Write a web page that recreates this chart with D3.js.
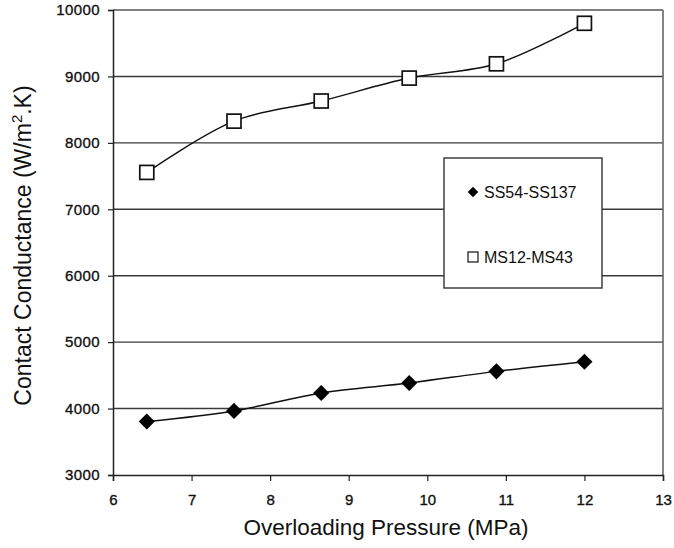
<!DOCTYPE html>
<html>
<head>
<meta charset="utf-8">
<script src="https://cdn.jsdelivr.net/npm/d3@7"></script>
<style>
  html, body { margin: 0; padding: 0; background: #fff; }
  svg { display: block; font-family: Arial, "Liberation Sans", Helvetica, sans-serif; }
</style>
</head>
<body>
<svg id="chart" width="674" height="548"></svg>
<script>
const pressure = [6.43, 7.54, 8.65, 9.77, 10.88, 12.0];
const ssValues = [3805, 3965, 4235, 4385, 4560, 4705];
const msValues = [7555, 8327, 8630, 8975, 9190, 9800];
const seriesNames = ["SS54-SS137", "MS12-MS43"];
const xTicks = [6, 7, 8, 9, 10, 11, 12, 13];
const yTicks = [3000, 4000, 5000, 6000, 7000, 8000, 9000, 10000];

const W = 674, H = 548;
const margin = { left: 113, top: 10, right: 11, bottom: 73 };
const svg = d3.select("#chart");
const x = d3.scaleLinear().domain([6, 13]).range([margin.left, W - margin.right]);
const y = d3.scaleLinear().domain([3000, 10000]).range([H - margin.bottom, margin.top]);

// gridlines
svg.append("g").selectAll("line").data(yTicks.filter(d => d > 3000 && d < 10000)).join("line")
  .attr("x1", x(6)).attr("x2", x(13))
  .attr("y1", d => y(d)).attr("y2", d => y(d))
  .attr("stroke", "#3a3a3a").attr("stroke-width", 1.4);

// plot border (top & right)
svg.append("line").attr("x1", x(6)).attr("x2", x(13)).attr("y1", y(10000)).attr("y2", y(10000))
  .attr("stroke", "#555").attr("stroke-width", 1.4);
svg.append("line").attr("x1", x(13)).attr("x2", x(13)).attr("y1", y(10000)).attr("y2", y(3000))
  .attr("stroke", "#666").attr("stroke-width", 1.6);

// axes
const yAxis = svg.append("g").attr("transform", `translate(${x(6)},0)`)
  .call(d3.axisLeft(y).tickValues(yTicks).tickFormat(d3.format("d")).tickSize(5).tickPadding(8));
const xAxis = svg.append("g").attr("transform", `translate(0,${y(3000)})`)
  .call(d3.axisBottom(x).tickValues(xTicks).tickFormat(d3.format("d")).tickSize(6).tickPadding(13));
[yAxis, xAxis].forEach(g => {
  g.select(".domain").attr("stroke", "#222").attr("stroke-width", 1.5);
  g.selectAll(".tick line").attr("stroke", "#222").attr("stroke-width", 1.2);
  g.selectAll(".tick text").attr("font-size", 15).attr("fill", "#111")
    .attr("stroke", "#111").attr("stroke-width", 0.35)
    .attr("font-family", "Arial, 'Liberation Sans', sans-serif");
});
yAxis.selectAll(".tick text").attr("letter-spacing", 0.4);

// axis titles
svg.append("text").attr("x", (x(6) + x(13)) / 2 - 2).attr("y", 535)
  .attr("text-anchor", "middle").attr("font-size", 22.5).attr("fill", "#111")
  .text("Overloading Pressure (MPa)");
const yt = svg.append("text").attr("transform", `translate(31,${(y(3000) + y(10000)) / 2 + 3}) rotate(-90)`)
  .attr("text-anchor", "middle").attr("font-size", 23).attr("fill", "#111");
yt.append("tspan").text("Contact Conductance (W/m");
yt.append("tspan").attr("dy", -9).attr("font-size", 15).text("2");
yt.append("tspan").attr("dy", 9).text(".K)");

// lines
const line = d3.line().x(d => x(d[0])).y(d => y(d[1])).curve(d3.curveCatmullRom.alpha(0.5));
const ssData = pressure.map((p, i) => [p, ssValues[i]]);
const msData = pressure.map((p, i) => [p, msValues[i]]);
svg.append("path").datum(ssData).attr("d", line).attr("fill", "none").attr("stroke", "#111").attr("stroke-width", 1.5);
svg.append("path").datum(msData).attr("d", line).attr("fill", "none").attr("stroke", "#111").attr("stroke-width", 1.5);

// markers
svg.append("g").selectAll("path").data(ssData).join("path")
  .attr("d", d3.symbol().type(d3.symbolSquare).size(130)())
  .attr("transform", d => `translate(${x(d[0])},${y(d[1])}) rotate(45)`)
  .attr("fill", "#000");
svg.append("g").selectAll("rect").data(msData).join("rect")
  .attr("x", d => x(d[0]) - 7).attr("y", d => y(d[1]) - 7)
  .attr("width", 14).attr("height", 14)
  .attr("fill", "#fff").attr("stroke", "#111").attr("stroke-width", 1.7);

// legend
const lg = svg.append("g");
lg.append("rect").attr("x", 444).attr("y", 158).attr("width", 158).attr("height", 130)
  .attr("fill", "#fff").attr("stroke", "#333").attr("stroke-width", 1.4);
lg.append("path").attr("d", d3.symbol().type(d3.symbolSquare).size(55)())
  .attr("transform", "translate(473,192) rotate(45)").attr("fill", "#000");
lg.append("text").attr("x", 484).attr("y", 198).attr("font-size", 16).attr("fill", "#111").text(seriesNames[0]);
lg.append("rect").attr("x", 468).attr("y", 252).attr("width", 10).attr("height", 10)
  .attr("fill", "#fff").attr("stroke", "#111").attr("stroke-width", 1.2);
lg.append("text").attr("x", 484).attr("y", 263).attr("font-size", 16).attr("fill", "#111").text(seriesNames[1]);
</script>
</body>
</html>
